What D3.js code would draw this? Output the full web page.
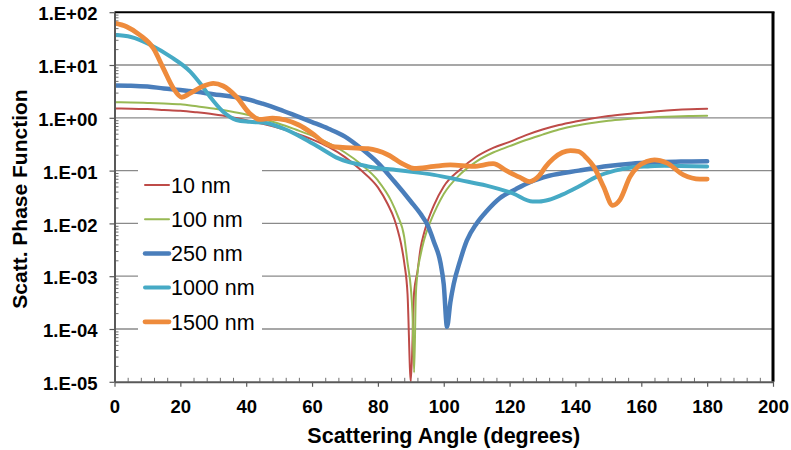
<!DOCTYPE html>
<html>
<head>
<meta charset="utf-8">
<script src="https://cdn.jsdelivr.net/npm/d3@7"></script>
<style>
  body { margin: 0; background: #fff; }
  svg { font-family: "Liberation Sans", Arial, sans-serif; }
</style>
</head>
<body>
<div id="chart"></div>
<script>
// series names
var names = ["10 nm", "100 nm", "250 nm", "1000 nm", "1500 nm"];

// angles (degrees) and phase function values
var ang10 = [0,5,10,15,20,25,30,35,40,45,50,55,60,65,70,75,80,83,85,86,87,88,89,90,91,92,93,94,95,97,100,105,110,115,120,125,130,135,140,145,150,155,160,165,170,175,180];
var val10 = [1.50,1.49,1.46,1.41,1.36,1.27,1.17,1.05,0.90,0.77,0.64,0.51,0.39,0.28,0.18,0.10,0.048,0.023,0.012,0.0075,0.0042,0.0018,0.00046,0.00001,0.0005,0.0012,0.0035,0.0065,0.0105,0.022,0.05,0.105,0.185,0.27,0.35,0.47,0.6,0.73,0.85,0.97,1.08,1.17,1.25,1.33,1.4,1.45,1.48];

var ang100 = [0,5,10,15,20,25,30,35,40,45,50,55,60,65,70,75,80,84,86,88,89,90,90.5,91,91.5,92,93,94,96,98,100,105,110,115,120,125,130,135,140,145,150,155,160,165,170,175,180];
var val100 = [1.97,1.95,1.91,1.86,1.80,1.65,1.50,1.33,1.15,0.95,0.77,0.6,0.46,0.33,0.22,0.13,0.065,0.027,0.014,0.0055,0.0018,0.0006,0.0002,0.000015,0.0004,0.0011,0.0026,0.0048,0.011,0.021,0.036,0.085,0.15,0.22,0.29,0.38,0.48,0.6,0.71,0.8,0.88,0.94,0.99,1.03,1.06,1.08,1.09];

var ang250 = [0,5,10,15,20,25,30,35,40,45,50,55,60,65,70,75,80,85,90,93,95,97,99,100,101,102,103,105,107,110,113,117,122,126,132,141,150,157,165,172,180];
var val250 = [4.1,4.05,3.9,3.6,3.37,3.1,2.8,2.55,2.27,1.85,1.45,1.1,0.83,0.62,0.44,0.26,0.14,0.062,0.026,0.015,0.0095,0.0045,0.0018,0.0007,0.00011,0.00032,0.0007,0.002,0.0047,0.01,0.017,0.03,0.045,0.06,0.08,0.10,0.122,0.135,0.143,0.148,0.15];

var ang1000 = [0,5,11,17,23,26,29,33,37,41,46,52,57,62,68,77,87,97,105,113,121,127,129,132,136,141,146.5,152,157,162,167,172,180];
var val1000 = [37,34,24,14.4,7.5,4.5,2.5,1.3,0.91,0.84,0.8,0.6,0.42,0.28,0.17,0.12,0.10,0.083,0.066,0.052,0.037,0.026,0.026,0.028,0.035,0.05,0.077,0.1,0.115,0.12,0.123,0.122,0.12];

var ang1500 = [0,3.7,7.7,11.8,14.8,17.9,20.4,22.9,27,30,33,37,41,44,48,52,56,60,64,67,72,77,83,88,91,97,102,109,115,119,123,126,129,131,133.3,136,138.5,141,143.5,145.5,148.5,151.3,153.5,156.6,159,161.6,164,167.7,172.8,177.8,180];
var val1500 = [62,53,37,20.7,8.7,3.6,2.45,2.9,4.0,4.5,4.0,2.5,1.22,0.93,0.98,0.91,0.73,0.51,0.33,0.28,0.27,0.26,0.2,0.13,0.11,0.12,0.128,0.12,0.135,0.10,0.075,0.062,0.08,0.12,0.17,0.22,0.24,0.23,0.17,0.12,0.05,0.022,0.028,0.077,0.12,0.148,0.16,0.14,0.083,0.069,0.069];

var xTicks = [0,20,40,60,80,100,120,140,160,180,200];
var yTicks = [1e-5,1e-4,1e-3,1e-2,1e-1,1e0,1e1,1e2];

var series = [
    {name: names[0], ang: ang10,   val: val10,   color: "#BE4B48", w: 2},
    {name: names[1], ang: ang100,  val: val100,  color: "#98B954", w: 2},
    {name: names[2], ang: ang250,  val: val250,  color: "#4A7EBB", w: 4.5},
    {name: names[3], ang: ang1000, val: val1000, color: "#46AAC5", w: 4},
    {name: names[4], ang: ang1500, val: val1500, color: "#EE8B3C", w: 4.8}
];

var width = 791, height = 450;
var pLeft = 114.5, pRight = 773, pTop = 12.2, pBottom = 381.8;

var svg = d3.select("#chart").append("svg")
    .attr("width", width)
    .attr("height", height);

svg.append("rect").attr("width", width).attr("height", height).attr("fill", "#fff");

var x = d3.scaleLinear().domain([0, 200]).range([pLeft, pRight]);
var y = d3.scaleLog().domain([1e-5, 1e2]).range([pBottom, pTop]);

// gridlines
svg.append("g").selectAll("line")
    .data(yTicks.slice(1, -1))
    .enter().append("line")
    .attr("x1", pLeft).attr("x2", pRight)
    .attr("y1", function(d) { return y(d); })
    .attr("y2", function(d) { return y(d); })
    .attr("stroke", "#8a8a8a").attr("stroke-width", 1.3);

// legend background hides the gridlines behind it
svg.append("rect")
    .attr("x", 138).attr("y", 163).attr("width", 124).attr("height", 175)
    .attr("fill", "#fff");

// top and right border
svg.append("line").attr("x1", pLeft).attr("x2", pRight + 1.5)
    .attr("y1", pTop).attr("y2", pTop).attr("stroke", "#000").attr("stroke-width", 2);
svg.append("line").attr("x1", pRight).attr("x2", pRight)
    .attr("y1", pTop).attr("y2", pBottom).attr("stroke", "#000").attr("stroke-width", 3);

var fmt = function(d) {
    var e = Math.round(Math.log10(d));
    return "1.E" + (e < 0 ? "-" : "+") + String(Math.abs(e)).padStart(2, "0");
};

// minor ticks (inside)
var xMinor = d3.range(0, 201, 4).filter(function(d) { return d % 20 != 0; });
svg.append("g")
    .attr("transform", "translate(0," + pBottom + ")")
    .call(d3.axisBottom(x).tickValues(xMinor).tickSize(-4).tickFormat(""))
    .call(function(g) {
        g.select(".domain").remove();
        g.selectAll("line").attr("stroke", "#707070").attr("stroke-width", 1);
    });

var yMinor = [];
yTicks.slice(0, -1).forEach(function(d) {
    for (var k = 2; k < 10; k++) yMinor.push(d * k);
});
svg.append("g")
    .attr("transform", "translate(" + pLeft + ",0)")
    .call(d3.axisLeft(y).tickValues(yMinor).tickSize(-4).tickFormat(""))
    .call(function(g) {
        g.select(".domain").remove();
        g.selectAll("line").attr("stroke", "#707070").attr("stroke-width", 1);
    });

// series lines
svg.append("clipPath").attr("id", "plot")
    .append("rect").attr("x", pLeft).attr("y", pTop - 2)
    .attr("width", pRight - pLeft).attr("height", pBottom - pTop + 2);

var line = d3.line()
    .x(function(d) { return x(d[0]); })
    .y(function(d) { return y(d[1]); })
    .curve(d3.curveMonotoneX);

svg.append("g").attr("clip-path", "url(#plot)")
    .selectAll("path")
    .data(series)
    .enter().append("path")
    .attr("d", function(s) { return line(d3.zip(s.ang, s.val)); })
    .attr("fill", "none")
    .attr("stroke", function(s) { return s.color; })
    .attr("stroke-width", function(s) { return s.w; })
    .attr("stroke-linejoin", "round")
    .attr("stroke-linecap", "round");

// major axes
svg.append("g")
    .attr("transform", "translate(0," + pBottom + ")")
    .call(d3.axisBottom(x).tickValues(xTicks).tickSize(5).tickSizeOuter(0).tickPadding(13))
    .call(function(g) {
        g.select(".domain").attr("stroke", "#595959").attr("stroke-width", 2);
        g.selectAll("line").attr("stroke", "#595959").attr("stroke-width", 1.2);
        g.selectAll("text").attr("font-size", 18.5).attr("font-weight", "bold")
            .attr("fill", "#000").attr("font-family", "Liberation Sans, Arial, sans-serif");
    });

svg.append("g")
    .attr("transform", "translate(" + pLeft + ",0)")
    .call(d3.axisLeft(y).tickValues(yTicks).tickFormat(fmt).tickSize(5).tickSizeOuter(0).tickPadding(12))
    .call(function(g) {
        g.select(".domain").attr("stroke", "#595959").attr("stroke-width", 2);
        g.selectAll("line").attr("stroke", "#595959").attr("stroke-width", 1.2);
        g.selectAll("text").attr("font-size", 18.5).attr("font-weight", "bold")
            .attr("dy", "0.42em")
            .attr("fill", "#000").attr("font-family", "Liberation Sans, Arial, sans-serif");
    });

// axis titles
svg.append("text")
    .attr("x", (pLeft + pRight) / 2).attr("y", 443)
    .attr("text-anchor", "middle")
    .attr("font-size", 21.5).attr("font-weight", "bold")
    .text("Scattering Angle (degrees)");

svg.append("text")
    .attr("transform", "translate(27," + ((pTop + pBottom) / 2 + 2) + ") rotate(-90)")
    .attr("text-anchor", "middle")
    .attr("font-size", 21).attr("font-weight", "bold")
    .text("Scatt. Phase Function");

// legend
var legend = svg.append("g").selectAll("g")
    .data(series)
    .enter().append("g")
    .attr("transform", function(s, i) { return "translate(0," + (185 + i * 34.2) + ")"; });

legend.append("line")
    .attr("x1", 145).attr("x2", 169)
    .attr("stroke", function(s) { return s.color; })
    .attr("stroke-width", function(s) { return s.w; })
    .attr("stroke-linecap", "round");

legend.append("text")
    .attr("x", 171).attr("dy", "0.36em")
    .attr("font-size", 21.5)
    .attr("fill", "#000")
    .text(function(s) { return s.name; });
</script>
</body>
</html>
